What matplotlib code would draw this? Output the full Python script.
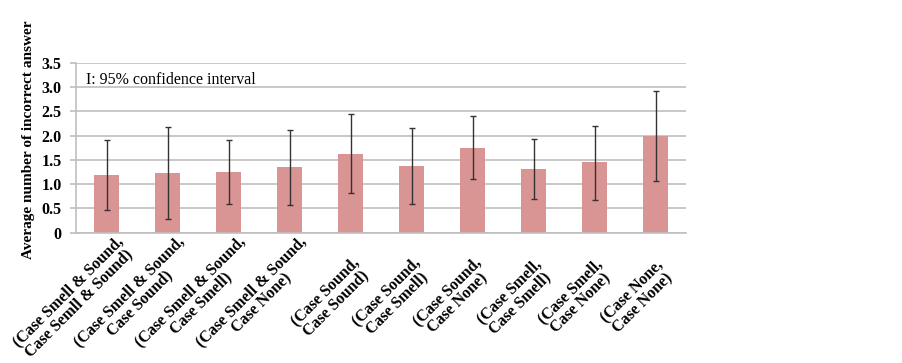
import numpy as np
import matplotlib.pyplot as plt
from matplotlib.transforms import ScaledTranslation

plt.rcParams['font.family'] = ['Liberation Serif', 'DejaVu Serif']

labels = ["(Case Smell & Sound,\nCase Semll & Sound)",
          "(Case Smell & Sound,\nCase Sound)",
          "(Case Smell & Sound,\nCase Smell)",
          "(Case Smell & Sound,\nCase None)",
          "(Case Sound,\nCase Sound)",
          "(Case Sound,\nCase Smell)",
          "(Case Sound,\nCase None)",
          "(Case Smell,\nCase Smell)",
          "(Case Smell,\nCase None)",
          "(Case None,\nCase None)"]
means = [1.19, 1.22, 1.25, 1.35, 1.63, 1.37, 1.75, 1.31, 1.45, 1.99]
ci_high = [1.90, 2.18, 1.90, 2.11, 2.44, 2.15, 2.40, 1.94, 2.20, 2.92]
ci_low = [0.47, 0.28, 0.60, 0.58, 0.81, 0.60, 1.10, 0.69, 0.67, 1.06]

means = np.array(means)
yerr = [means - np.array(ci_low), np.array(ci_high) - means]
x = np.arange(len(labels))
fs = 11.5

fig = plt.figure(figsize=(9.03, 3.63), dpi=100)
ax = fig.add_axes([0.0842, 0.359, 0.6755, 0.468])

ax.bar(x, means, width=0.4, color='#d99594', zorder=2)
ax.errorbar(x, means, yerr=yerr, fmt='none', ecolor='#333333', elinewidth=1,
            capsize=2.5, capthick=1, zorder=3)

ax.set_xlim(-0.5, len(labels) - 0.5)
ax.set_ylim(0, 3.5)
ax.set_yticks(np.arange(0, 3.51, 0.5))
ax.set_yticklabels(['0'] + [f'{v:.1f}' for v in np.arange(0.5, 3.51, 0.5)])
ax.yaxis.grid(True, color='#bfbfbf', linewidth=1.2, zorder=0)
ax.set_axisbelow(True)

for s in ['top', 'right']:
    ax.spines[s].set_visible(False)
for s in ['left', 'bottom']:
    ax.spines[s].set_color('#bfbfbf')
    ax.spines[s].set_linewidth(1.2)
ax.tick_params(axis='y', length=4, color='#bfbfbf', width=1.2, pad=6.5, labelsize=fs)
ax.tick_params(axis='x', length=0, pad=0)
for t in ax.get_yticklabels():
    t.set_fontweight('bold')

ax.set_xticks(x)
ax.set_xticklabels(labels, rotation=45, ha='center', va='center',
                   rotation_mode='anchor', multialignment='center',
                   fontweight='bold', fontsize=fs, linespacing=0.95)

# Excel-like placement: block centre ~65 px below the axis, shifted left by
# a share of the longest line's width
fig.canvas.draw()
renderer = fig.canvas.get_renderer()
for t in ax.get_xticklabels():
    widest = 0
    for line in t.get_text().split('\n'):
        w, h, d = renderer.get_text_width_height_descent(line, t.get_fontproperties(), ismath=False)
        widest = max(widest, w)
    dx = -0.22 * widest
    dy = -65
    t.set_transform(t.get_transform() + ScaledTranslation(dx / 100, dy / 100, fig.dpi_scale_trans))

ax.set_ylabel('Average number of incorrect answer', fontsize=11, fontweight='bold')
ax.yaxis.set_label_coords(-0.068, 0.545)
ax.text(0.016, 0.945, 'I: 95% confidence interval', transform=ax.transAxes,
        fontsize=fs, va='top', ha='left')

fig.savefig('out.png', dpi=100)
